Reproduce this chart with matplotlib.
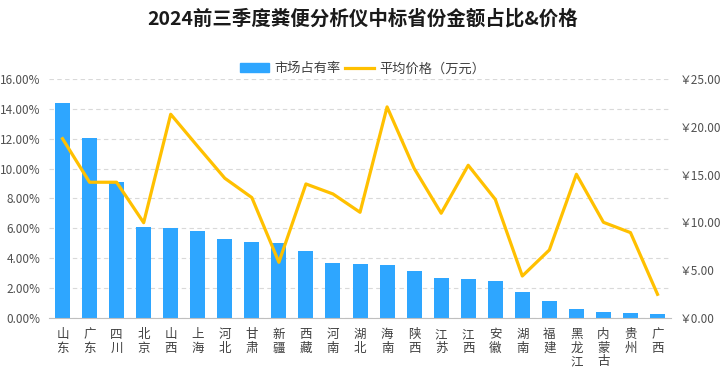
import matplotlib
matplotlib.use("Agg")
import matplotlib.pyplot as plt
from matplotlib.patches import Patch
from matplotlib.lines import Line2D
from matplotlib.ticker import FuncFormatter, MultipleLocator

plt.rcParams['font.family'] = ['Noto Sans CJK SC', 'DejaVu Sans']

provinces = ['山东', '广东', '四川', '北京', '山西', '上海', '河北', '甘肃', '新疆', '西藏',
             '河南', '湖北', '海南', '陕西', '江苏', '江西', '安徽', '湖南', '福建', '黑龙江',
             '内蒙古', '贵州', '广西']
share = [14.41, 12.06, 9.10, 6.08, 6.02, 5.82, 5.28, 5.08, 5.01, 4.47,
         3.67, 3.60, 3.54, 3.14, 2.67, 2.60, 2.46, 1.72, 1.12, 0.58,
         0.38, 0.31, 0.25]
price = [18.77, 14.20, 14.20, 9.96, 21.33, 17.95, 14.62, 12.59, 5.81, 14.02,
         12.97, 11.05, 22.10, 15.66, 10.95, 15.98, 12.41, 4.37, 7.10, 15.04,
         10.00, 8.92, 2.45]

bar_color = '#2EA6FF'
line_color = '#FFC000'

fig = plt.figure(figsize=(7.25, 3.72), dpi=100)
ax = fig.add_axes([0.0676, 0.146, 0.858, 0.641])
ax2 = ax.twinx()

x = range(len(provinces))
ax.bar(x, share, width=0.555, color=bar_color, zorder=2)
ax2.plot(x, price, color=line_color, lw=2.3, zorder=3)

ax.set_xlim(-0.5, len(provinces) - 0.5)
ax.set_ylim(0, 16)
ax2.set_ylim(0, 25)
ax.yaxis.set_major_locator(MultipleLocator(2))
ax2.yaxis.set_major_locator(MultipleLocator(5))
ax.yaxis.set_major_formatter(FuncFormatter(lambda v, p: f'{v:.2f}%'))
ax2.yaxis.set_major_formatter(FuncFormatter(lambda v, p: f'￥{v:.2f}'))

ax.grid(axis='y', color='#D9D9D9', ls=(0, (4, 3)), lw=0.8, zorder=0)
ax.set_axisbelow(True)

ax.set_xticks(list(x))
ax.set_xticklabels(['\n'.join(p) for p in provinces], fontsize=9, linespacing=1.05,
                   color='#404040', va='top')
for a in (ax, ax2):
    for s in ('top', 'left', 'right'):
        a.spines[s].set_visible(False)
    a.tick_params(axis='y', length=0, labelsize=8.5, labelcolor='#505050')
ax2.spines['bottom'].set_visible(False)
ax.spines['bottom'].set_color('#BFBFBF')
ax.tick_params(axis='x', length=0, pad=7.5)
ax.tick_params(axis='y', pad=6)
ax2.tick_params(axis='y', pad=6)

fig.text(0.5, 0.949, '2024前三季度粪便分析仪中标省份金额占比&价格', ha='center', va='center',
         fontsize=14, fontweight='bold', color='#1a1a1a')

handles = [Patch(color=bar_color), Line2D([0], [0], color=line_color, lw=2.3)]
fig.legend(handles, ['市场占有率', '平均价格（万元）'], loc='center', bbox_to_anchor=(0.5, 0.815),
           ncol=2, frameon=False, fontsize=9.5, handlelength=2.2, handleheight=0.6,
           columnspacing=0.3, handletextpad=0.4, labelcolor='#404040')

fig.savefig('out.png', dpi=100)
